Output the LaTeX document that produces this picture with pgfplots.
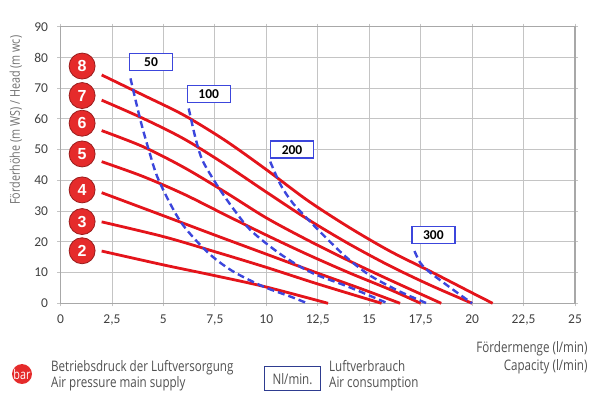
\documentclass[border=0pt]{standalone}
\usepackage{fontspec}
\usepackage{pgfplots}
\pgfplotsset{compat=1.18}
\setmainfont{Carlito}
\newfontfamily\osans[FakeStretch=0.8]{Open Sans}
\newfontfamily\arialb{Liberation Sans}
\definecolor{cred}{HTML}{E4141B}
\definecolor{cblue}{HTML}{3C46DC}
\definecolor{cgrid}{HTML}{C4C4C4}
\definecolor{cframe}{HTML}{A8A8A8}
\definecolor{ctxt}{HTML}{404040}
\definecolor{clab}{HTML}{707070}
\definecolor{cleg}{HTML}{505050}
\definecolor{ccirc}{HTML}{E52B2B}
\definecolor{cring}{HTML}{9A1C1C}
\definecolor{cnavy}{HTML}{2E3C90}
\tikzset{
  barc/.style={circle, fill=ccirc, draw=cring, line width=0.8pt, minimum size=26pt, inner sep=0pt, text=white, font=\arialb\bfseries\fontsize{16}{16}\selectfont},
  nlbox/.style={draw=cblue, fill=white, line width=1.3pt, minimum width=43pt, minimum height=17pt, inner sep=0pt, font=\bfseries\fontsize{13.5}{14}\selectfont},
  legt/.style={inner sep=0pt, text=cleg, font=\osans\fontsize{14.5}{16}\selectfont},
}
\pgfplotsset{
  redc/.style={cred, line width=2.8pt, smooth, tension=0.5},
  bluec/.style={cblue, line width=2.4pt, dash pattern=on 7pt off 4pt, smooth, tension=0.5},
}
\begin{document}
\begin{tikzpicture}[x=1pt,y=1pt]
\path[use as bounding box] (0,0) rectangle (600,-397);
\begin{axis}[
  scale only axis, width=514.5pt, height=276.6pt,
  at={(60.5pt,-303.3pt)}, anchor=south west,
  xmin=0, xmax=25, ymin=0, ymax=90,
  xtick={0,2.5,...,25},
  xticklabels={0,{2,5},5,{7,5},10,{12,5},15,{17,5},20,{22,5},25},
  ytick={0,10,...,90},
  yticklabels={0,10,20,30,40,50,60,70,80,90},
  grid=major,
  major grid style={cgrid, line width=0.9pt},
  axis line style={cframe, line width=1.1pt},
  tick align=outside, xtick pos=both, ytick pos=both,
  major tick length=3pt,
  every tick/.style={cgrid, line width=0.9pt},
  ticklabel style={font=\fontsize{13.5}{14}\selectfont, text=ctxt},
  xticklabel style={yshift=-5pt},
  yticklabel style={xshift=-6pt},
  ylabel={Förderhöhe (m WS) / Head (m wc)},
  ylabel style={font=\osans\fontsize{13.5}{15}\selectfont, text=clab, at={(axis description cs:0,0.662)}, anchor=south, yshift=35pt},
  clip=false,
]
% pressure curves (bar)
\addplot[redc] coordinates {(2,17) (5,12.5) (7.5,9) (10,5.3) (13,0)};
\addplot[redc] coordinates {(2,26.5) (5,21.7) (7.5,16.8) (10,11.7) (12.5,6.3) (15.6,0)};
\addplot[redc] coordinates {(2,36) (5,28.5) (7.5,22.2) (10,16) (12.5,9.8) (14.5,5) (16.5,0)};
\addplot[redc] coordinates {(2,46.1) (4,41.3) (6,35.5) (8,28.8) (10,22.2) (12,15.9) (14,10) (16,4.5) (17.5,0)};
\addplot[redc] coordinates {(2,56.2) (4,51) (6,44.2) (8,36.2) (10,27.8) (12,20.6) (14,13.9) (16,7.6) (18.5,0)};
\addplot[redc] coordinates {(2,66.1) (4,60.2) (6,53.5) (8,45.2) (10,36.2) (12,27.4) (14,19.4) (16,12.2) (18,5.8) (20,0)};
\addplot[redc] coordinates {(2,74.3) (4,67.8) (6,61.2) (8,53) (10,43.5) (12,33.5) (14,24.8) (16,17) (18,10.3) (20,3.4) (21,0)};
% air consumption curves (Nl/min)
\addplot[bluec] coordinates {(3.4,73.2) (3.88,59.7) (4.29,49.9) (4.77,40.1) (5.83,26.6) (7.12,16.8) (8.33,10.6) (9.87,5.4) (11.17,2.2) (12,0)};
\addplot[bluec] coordinates {(6.23,63.4) (6.55,54) (6.9,46.5) (7.6,38.5) (8.33,31.4) (9.22,23.9) (10.52,16.8) (11.65,11.9) (12.46,9.2) (13.75,6.0) (14.56,3.8) (15.9,0)};
\addplot[bluec] coordinates {(10.19,46.1) (10.7,38.5) (11.3,32.5) (12,27.5) (12.95,21) (13.92,14.8) (15.05,9) (16.5,3.8) (17.8,0)};
\addplot[bluec] coordinates {(17.2,17) (17.5,13) (18,9.8) (19,4.8) (20,0)};
% labels
\node[barc] at (axis cs:1.05,77.2) {8};
\node[barc] at (axis cs:1.05,67.6) {7};
\node[barc] at (axis cs:1.05,58.6) {6};
\node[barc] at (axis cs:1.05,48.6) {5};
\node[barc] at (axis cs:1.05,36.9) {4};
\node[barc] at (axis cs:1.05,26.6) {3};
\node[barc] at (axis cs:1.05,17.1) {2};
\node[nlbox] at (axis cs:4.4,78.5) {50};
\node[nlbox] at (axis cs:7.2,68.2) {100};
\node[nlbox] at (axis cs:11.25,50) {200};
\node[nlbox] at (axis cs:18.12,22.2) {300};
\end{axis}
% legend
\node[circle, fill=ccirc, minimum size=19pt, inner sep=0pt, text=white, font=\osans\fontsize{13.5}{13}\selectfont] at (22,-374) {bar};
\node[legt, anchor=base west] at (51,-371.5) {Betriebsdruck der Luftversorgung};
\node[legt, anchor=base west] at (51,-387.5) {Air pressure main supply};
\node[legt, draw=cnavy, line width=1.3pt, minimum width=55.8pt, minimum height=24.3pt] at (292.5,-378.6) {Nl/min.};
\node[legt, anchor=base west] at (329,-371.5) {Luftverbrauch};
\node[legt, anchor=base west] at (329,-387.5) {Air consumption};
\node[legt, anchor=base east] at (587.7,-352.3) {Fördermenge (l/min)};
\node[legt, anchor=base east] at (587.7,-370.4) {Capacity (l/min)};
\end{tikzpicture}
\end{document}
